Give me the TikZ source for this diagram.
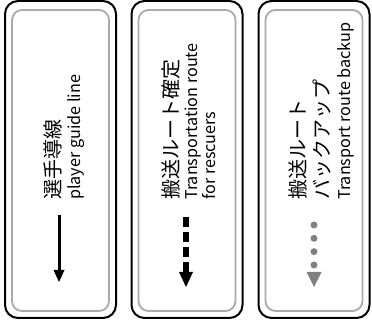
\documentclass[tikz,border=0pt]{standalone}
\usepackage{fontspec}
\setmainfont{Noto Sans CJK JP}
\usetikzlibrary{arrows.meta}
\definecolor{framegray}{RGB}{170,170,170}
\definecolor{dotgray}{RGB}{128,128,128}

\begin{document}
\begin{tikzpicture}[x=1pt, y=1pt,
    panel/.style={rectangle, draw, line width=2pt, rounded corners=13pt, minimum width=111pt, minimum height=317pt, inner sep=0pt},
    innerframe/.style={rectangle, draw=framegray, line width=1.8pt, rounded corners=10pt, minimum width=97pt, minimum height=301pt, inner sep=0pt},
    jp/.style={rotate=90, anchor=base west, inner sep=0pt, font=\fontsize{20}{24}\selectfont},
    en/.style={rotate=90, anchor=base west, inner sep=0pt, font=\fontsize{16.2}{20}\selectfont},
]
    \useasboundingbox (0,0) rectangle (372,329);

    % Frames
    \node[panel] (guide) at (60.5, 169.5) {};
    \node[innerframe] (guide_in) at (60.5, 168.5) {};
    \node[panel] (route) at (187, 169.5) {};
    \node[innerframe] (route_in) at (187, 168.5) {};
    \node[panel] (backup) at (314, 169.5) {};
    \node[innerframe] (backup_in) at (314, 168.5) {};

    % Player guide line
    \node[jp] (guide_jp) at (60.5, 129) {選手導線};
    \node[en] (guide_en) at (80, 129) {player guide line};
    \coordinate (guide_top) at (59, 114);
    \coordinate (guide_tip) at (59, 47);
    \draw[line width=3pt, -{Triangle[width=11pt, length=12pt, line width=0pt]}] (guide_top) -- (guide_tip);

    % Transportation route
    \node[jp] (route_jp) at (178.5, 129) {搬送ルート確定};
    \node[en] (route_en) at (197, 129) {Transportation route};
    \node[en] (route_en2) at (215, 129) {for rescuers};
    \coordinate (route_top) at (186, 112);
    \coordinate (route_tip) at (186, 42);
    \draw[line width=5.5pt, dash pattern=on 10pt off 5pt, -{Triangle[width=14pt, length=15pt, line width=0pt]}] (route_top) -- (route_tip);

    % Transport route backup
    \node[jp] (backup_jp) at (305.5, 129) {搬送ルート};
    \node[jp] (backup_jp2) at (329, 129) {バックアップ};
    \node[en] (backup_en) at (350, 129) {Transport route backup};
    \coordinate (backup_top) at (314, 104);
    \coordinate (backup_tip) at (314, 42);
    \draw[dotgray, line width=7pt, line cap=round, dash pattern=on 0pt off 13.33pt, -{Triangle[width=15pt, length=15pt, line width=0pt]}] (backup_top) -- (backup_tip);
\end{tikzpicture}
\end{document}
